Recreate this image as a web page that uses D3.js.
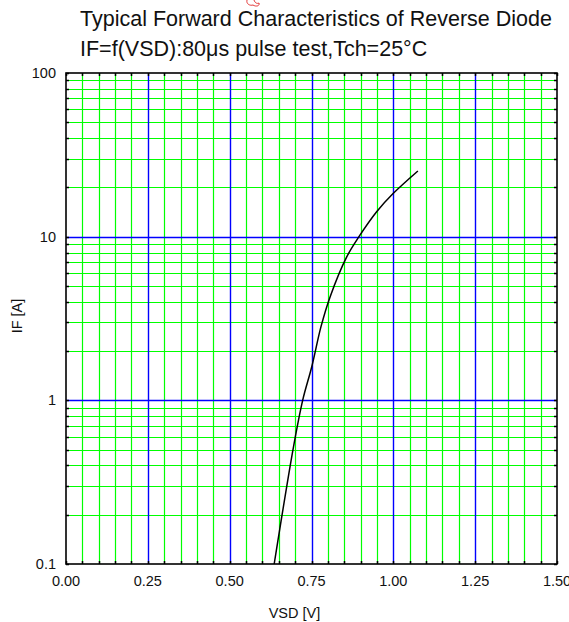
<!DOCTYPE html>
<html><head><meta charset="utf-8">
<script src="https://cdn.jsdelivr.net/npm/d3@7"></script>
<style>body{margin:0;background:#fff}svg{display:block}text{font-family:"Liberation Sans",Arial,sans-serif}</style>
</head><body><svg id="c" width="569" height="622"></svg>
<script>
const titleLines = ["Typical Forward Characteristics of Reverse Diode", "IF=f(VSD):80μs pulse test,Tch=25°C"];
const xLabel = "VSD [V]";
const yLabel = "IF [A]";
const vsd = [0.636, 0.695, 0.723, 0.751, 0.779, 0.807, 0.858, 0.895, 0.949, 1.000, 1.075];
const ifA = [0.1, 0.52, 1.0, 1.61, 2.82, 4.3, 7.55, 10.0, 14.2, 18.4, 25.2];
const xTicks = [0, 0.25, 0.5, 0.75, 1.0, 1.25, 1.5];
const xTickLabels = ["0.00", "0.25", "0.50", "0.75", "1.00", "1.25", "1.50"];
const yTicks = [0.1, 1, 10, 100];
const yTickLabels = ["0.1", "1", "10", "100"];
const xMinorStep = 0.05;

const svg = d3.select("#c");
const L = 66, R = 557, T = 73, B = 564;
const x = d3.scaleLinear().domain([0, 1.5]).range([L, R]);
const y = d3.scaleLog().domain([0.1, 100]).range([B, T]);

const xMinor = d3.range(0, 1.5001, xMinorStep).map(v => +v.toFixed(2));
const yMinor = [];
[0.1, 1, 10].forEach(d => { for (let k = 1; k <= 9; k++) yMinor.push(+(d * k).toPrecision(3)); });
yMinor.push(100);
const isMajorX = v => Math.abs(v / 0.25 - Math.round(v / 0.25)) < 1e-6;
const isMajorY = v => yTicks.some(t => Math.abs(t - v) < 1e-9);

const g = svg.append("g");
g.selectAll("line.vx").data(xMinor.filter(v => !isMajorX(v))).join("line")
  .attr("x1", d => Math.round(x(d)) + 0.5).attr("x2", d => Math.round(x(d)) + 0.5)
  .attr("y1", T).attr("y2", B).attr("stroke", "#00ff00").attr("stroke-width", 1.2);
g.selectAll("line.hy").data(yMinor.filter(v => !isMajorY(v))).join("line")
  .attr("y1", d => Math.round(y(d)) + 0.5).attr("y2", d => Math.round(y(d)) + 0.5)
  .attr("x1", L).attr("x2", R).attr("stroke", "#00ff00").attr("stroke-width", 1.2);
g.selectAll("line.bx").data(xTicks.filter(v => v > 0 && v < 1.5)).join("line")
  .attr("x1", d => Math.round(x(d)) + 0.5).attr("x2", d => Math.round(x(d)) + 0.5)
  .attr("y1", T).attr("y2", B).attr("stroke", "#0000ff").attr("stroke-width", 1.4);
g.selectAll("line.by").data(yTicks.filter(v => v > 0.1 && v < 100)).join("line")
  .attr("y1", d => Math.round(y(d)) + 0.5).attr("y2", d => Math.round(y(d)) + 0.5)
  .attr("x1", L).attr("x2", R).attr("stroke", "#0000ff").attr("stroke-width", 1.4);

const tk = svg.append("g").attr("stroke", "#000").attr("stroke-width", 1.5);
yMinor.forEach(v => {
  const yy = Math.round(y(v)) + 0.5;
  tk.append("line").attr("x1", L).attr("x2", L + 3).attr("y1", yy).attr("y2", yy);
  tk.append("line").attr("x1", R - 3).attr("x2", R).attr("y1", yy).attr("y2", yy);
});
xMinor.forEach(v => {
  const xx = Math.round(x(v)) + 0.5;
  tk.append("line").attr("x1", xx).attr("x2", xx).attr("y1", T).attr("y2", T + 3);
  tk.append("line").attr("x1", xx).attr("x2", xx).attr("y1", B - 3).attr("y2", B);
});

svg.append("rect").attr("x", L).attr("y", T).attr("width", R - L).attr("height", B - T)
  .attr("fill", "none").attr("stroke", "#000").attr("stroke-width", 1.6);

const line = d3.line().x(d => x(d[0])).y(d => y(d[1])).curve(d3.curveCatmullRom.alpha(0.5));
svg.append("path").datum(vsd.map((v, i) => [v, ifA[i]])).attr("d", line)
  .attr("fill", "none").attr("stroke", "#000").attr("stroke-width", 1.5);

svg.append("g").selectAll("text").data(xTicks).join("text")
  .attr("x", d => x(d)).attr("y", 586).attr("text-anchor", "middle")
  .attr("font-size", 14.5).attr("fill", "#111").text((d, i) => xTickLabels[i]);
svg.append("g").selectAll("text").data(yTicks).join("text")
  .attr("x", 56).attr("y", d => y(d) + 5).attr("text-anchor", "end")
  .attr("font-size", 14.5).attr("fill", "#111").text((d, i) => yTickLabels[i]);

svg.append("text").attr("x", 294.5).attr("y", 618).attr("text-anchor", "middle")
  .attr("font-size", 14.5).attr("fill", "#111").text(xLabel);
svg.append("text").attr("transform", "translate(22,316) rotate(-90)").attr("text-anchor", "middle")
  .attr("font-size", 14.5).attr("fill", "#111").text(yLabel);

// small red stray mark near the title
svg.append("path").attr("d", "M247,0 C246,4 250,6 253,5 C256,7 260,6 259,3 C257,4 255,3 254,0")
  .attr("fill", "none").attr("stroke", "#e02020").attr("stroke-width", 0.9);

svg.append("g").selectAll("text").data(titleLines).join("text")
  .attr("x", 80).attr("y", (d, i) => 26 + i * 30).attr("font-size", 21.5).attr("fill", "#111").text(d => d);
</script></body></html>
